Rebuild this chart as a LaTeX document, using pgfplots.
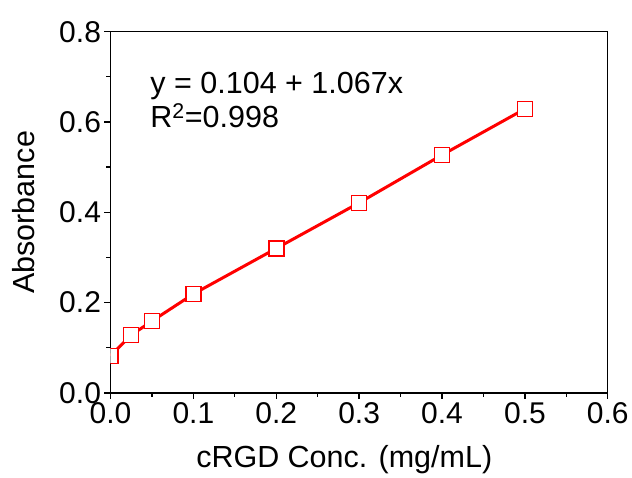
\documentclass[border=0pt]{standalone}
\usepackage{fontspec}
\setmainfont{Liberation Sans}
\usepackage{pgfplots}
\pgfplotsset{compat=1.18}
\usetikzlibrary{calc}
\definecolor{datared}{RGB}{255,0,0}

\begin{document}
\begin{tikzpicture}
\begin{axis}[
  scale only axis,
  width=497.5pt, height=361.3pt,
  xmin=0, xmax=0.6, ymin=0, ymax=0.8,
  xtick={0,0.1,...,0.6}, ytick={0,0.2,...,0.8},
  minor x tick num=1, minor y tick num=1,
  xtick pos=bottom, ytick pos=left,
  tick align=outside,
  major tick length=6pt, minor tick length=4pt,
  every tick/.style={line width=1.3pt, black},
  axis line style={line width=1.3pt},
  xticklabel style={/pgf/number format/.cd, fixed, fixed zerofill, precision=1, assume math mode=true},
  yticklabel style={/pgf/number format/.cd, fixed, fixed zerofill, precision=1, assume math mode=true},
  tick label style={font=\fontsize{30}{36}\selectfont},
  label style={font=\fontsize{30.5}{36}\selectfont},
  xlabel={cRGD Conc. (mg/mL)},
  ylabel={Absorbance},
  xlabel style={at={(axis description cs:0.47,-0.207)}, anchor=base},
  ylabel style={at={(axis description cs:-0.152,0.5)}, anchor=base, rotate=0},
  clip marker paths=true,
]
  \addplot[datared, line width=3pt, mark=square*, mark size=7.5pt,
           mark options={line width=1.6pt, fill=white, draw=datared, solid}]
    coordinates {
      (0,0.082) (0.025,0.128) (0.05,0.159) (0.1,0.219)
      (0.2,0.320) (0.3,0.421) (0.4,0.527) (0.5,0.629)
    };
  \node[anchor=base west, font=\fontsize{30.5}{36}\selectfont]
    at (axis cs:0.044,0.664) {y = 0.104 + 1.067x};
  \node[anchor=base west, font=\fontsize{30.5}{36}\selectfont]
    at (axis cs:0.044,0.587) {R\textsuperscript{2}=0.998};
  \coordinate (sw) at (rel axis cs:0,0);
  \coordinate (ne) at (rel axis cs:1,1);
\end{axis}
\path ($(sw)+(-110.5pt,-84pt)$) rectangle ($(ne)+(24pt,31.7pt)$);
\end{tikzpicture}
\end{document}
